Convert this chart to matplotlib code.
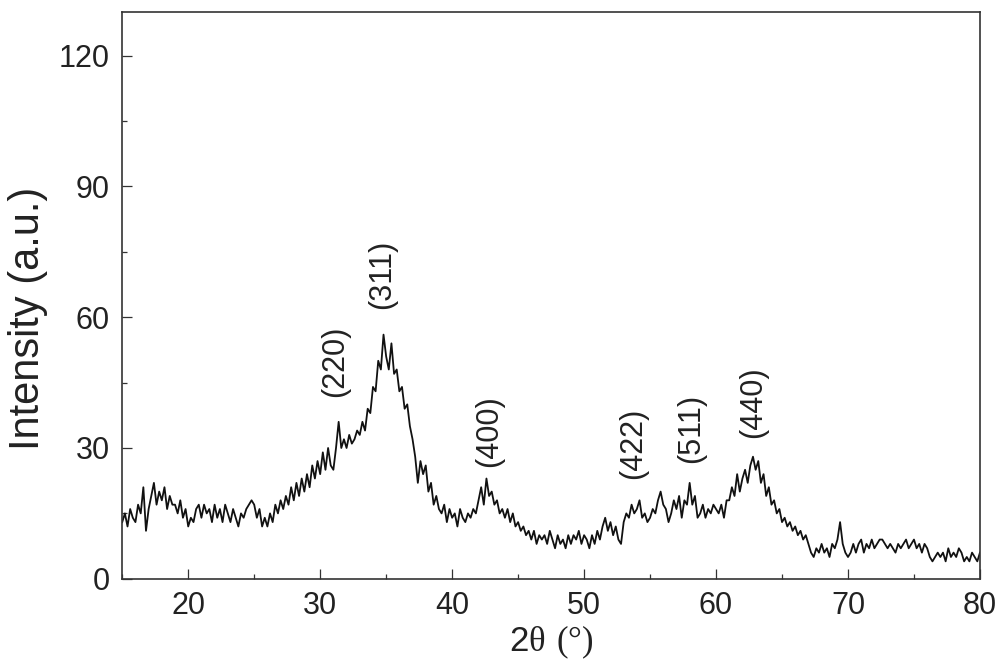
import numpy as np
import matplotlib
matplotlib.use("Agg")
import matplotlib.pyplot as plt
from matplotlib.ticker import MultipleLocator

# 2-theta sampling: 15.0 .. 80.0 step 0.2 deg
theta_start = 15.0
theta_step = 0.2

intensity = [
    13, 15, 12, 16, 14, 13, 17, 15, 21, 11,   # 15.0-16.8
    16, 19, 22, 17, 20, 18, 21, 16, 19, 17,   # 17.0-18.8
    17, 15, 18, 14, 16, 12, 14, 13, 16, 17,   # 19.0-20.8
    14, 17, 15, 16, 13, 17, 14, 16, 13, 17,   # 21.0-22.8
    15, 13, 16, 14, 12, 15, 14, 16, 17, 18,   # 23.0-24.8
    17, 14, 16, 12, 14, 12, 15, 13, 17, 15,   # 25.0-26.8
    18, 16, 19, 17, 21, 18, 22, 19, 23, 20,   # 27.0-28.8
    24, 21, 26, 23, 27, 24, 29, 25, 30, 26,   # 29.0-30.8
    25, 30, 36, 30, 32, 30, 33, 31, 32, 34,   # 31.0-32.8
    33, 36, 34, 39, 38, 44, 43, 50, 48, 56,   # 33.0-34.8
    51, 48, 54, 47, 48, 43, 44, 39, 40, 35,   # 35.0-36.8
    32, 28, 22, 27, 24, 26, 20, 22, 17, 19,   # 37.0-38.8
    16, 15, 17, 13, 16, 14, 15, 12, 16, 14,   # 39.0-40.8
    13, 15, 14, 16, 15, 18, 21, 17, 23, 19,   # 41.0-42.8
    20, 17, 18, 15, 16, 14, 16, 13, 15, 12,   # 43.0-44.8
    13, 11, 12, 10, 11, 9, 11, 8, 10, 9,      # 45.0-46.8
    10, 8, 11, 9, 7, 10, 8, 9, 7, 10,         # 47.0-48.8
    8, 10, 9, 11, 8, 10, 9, 7, 10, 8,         # 49.0-50.8
    11, 9, 12, 14, 11, 13, 10, 12, 9, 8,      # 51.0-52.8
    13, 15, 14, 17, 15, 16, 18, 14, 15, 13,   # 53.0-54.8
    14, 16, 15, 18, 20, 17, 16, 13, 15, 18,   # 55.0-56.8
    16, 19, 14, 18, 17, 22, 17, 19, 14, 15,   # 57.0-58.8
    17, 14, 16, 15, 17, 16, 15, 17, 14, 18,   # 59.0-60.8
    18, 21, 19, 24, 20, 23, 25, 22, 26, 28,   # 61.0-62.8
    25, 27, 22, 24, 19, 21, 17, 18, 15, 16,   # 63.0-64.8
    13, 14, 12, 13, 11, 12, 10, 11, 9, 10,    # 65.0-66.8
    8, 6, 5, 7, 6, 8, 6, 7, 5, 8,             # 67.0-68.8
    7, 9, 13, 8, 6, 5, 6, 8, 6, 8,            # 69.0-70.8
    9, 6, 8, 7, 9, 7, 8, 9, 9, 8,             # 71.0-72.8
    7, 8, 7, 6, 8, 7, 8, 9, 7, 8,             # 73.0-74.8
    9, 7, 8, 6, 8, 7, 5, 4, 5, 6,             # 75.0-76.8
    5, 6, 4, 7, 5, 6, 5, 7, 6, 4,             # 77.0-78.8
    5, 4, 6, 5, 4, 6,                         # 79.0-80.0
]

peak_labels = ["(220)", "(311)", "(400)", "(422)", "(511)", "(440)"]
peak_x = [31.1, 34.7, 42.8, 53.7, 58.1, 62.8]
peak_y = [41.6, 61.9, 25.6, 23.0, 26.5, 32.4]

x_ticks = [20, 30, 40, 50, 60, 70, 80]
y_ticks = [0, 30, 60, 90, 120]

theta = theta_start + theta_step * np.arange(len(intensity))

plt.rcParams['font.family'] = ['Liberation Sans', 'DejaVu Sans']
plt.rcParams['mathtext.fontset'] = 'custom'
plt.rcParams['mathtext.rm'] = 'Liberation Serif'

fig = plt.figure(figsize=(10.02, 6.63), dpi=100)
ax = fig.add_axes([0.122, 0.127, 0.856, 0.855])

ax.plot(theta, intensity, color='#111111', lw=1.3)

ax.set_xlim(15, 80)
ax.set_ylim(0, 130)
ax.set_xticks(x_ticks)
ax.set_yticks(y_ticks)
ax.xaxis.set_minor_locator(MultipleLocator(5))
ax.yaxis.set_minor_locator(MultipleLocator(15))
ax.tick_params(which='both', direction='in', colors='#333333', labelcolor='#222222')
ax.tick_params(which='major', length=7, width=0.9, labelsize=22)
ax.tick_params(axis='x', which='major', pad=9)
ax.tick_params(axis='y', which='major', pad=9)
ax.tick_params(which='minor', length=3.5, width=0.9)
for s in ax.spines.values():
    s.set_linewidth(1.2)
    s.set_color('#333333')

for lab, px, py in zip(peak_labels, peak_x, peak_y):
    ax.text(px, py, lab, rotation=90, ha='center', va='bottom', fontsize=22, color='#222222')

ax.set_xlabel(r"2$\mathrm{\theta\ (°)}$", fontsize=25, color='#222222', labelpad=2)
ax.set_ylabel("Intensity (a.u.)", fontsize=30, color='#222222')
ax.yaxis.set_label_coords(-0.087, 0.46)

fig.savefig("out.png", dpi=100)
